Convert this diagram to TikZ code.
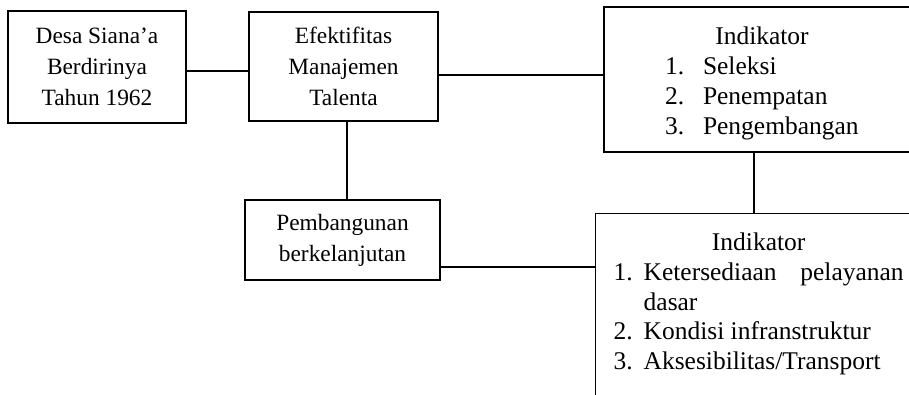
\documentclass[tikz,border=0pt]{standalone}
\usepackage{fontspec}
\setmainfont{Liberation Serif}
\usetikzlibrary{positioning,calc}

\begin{document}
\begin{tikzpicture}[x=0.02cm,y=-0.02cm,line width=.8pt,
box/.style={draw,rectangle,align=center,inner sep=0pt,font=\fontsize{13.3}{17.6}\selectfont},
indbox/.style={draw,rectangle,inner sep=0pt,font=\fontsize{14.5}{17}\selectfont}]
\useasboundingbox (0,0) rectangle (909,395);
\node[box,minimum width=3.56cm,minimum height=2.24cm] (desa) at (97,67) {Desa Siana’a\\Berdirinya\\Tahun 1962};
\node[box,minimum width=3.78cm,minimum height=2.18cm] (efek) at (343.5,66.5) {Efektifitas\\Manajemen\\Talenta};
\node[box,minimum width=3.9cm,minimum height=1.6cm] (bangun) at (342.5,240) {Pembangunan\\berkelanjutan};
\node[indbox,align=left,text width=5.2cm,minimum width=6.32cm,minimum height=2.9cm] (ind1) at (762,79.5) {{\centering\rule{0pt}{14.5pt}Indikator\par}
{\leftskip=.66cm
\noindent\makebox[.76cm][l]{1.}Seleksi\par
\noindent\makebox[.76cm][l]{2.}Penempatan\par
\noindent\makebox[.76cm][l]{3.}Pengembangan\par}};
\node[indbox,anchor=north west,text width=5.8cm,inner xsep=.36cm,inner ysep=.38cm,text depth=3cm,align=justify] (ind2) at (595,213) {{\centering Indikator\par}
\noindent\hangindent=.6cm\makebox[.6cm][l]{1.}Ketersediaan pelayanan dasar\par
\noindent\hangindent=.6cm\makebox[.6cm][l]{2.}Kondisi infranstruktur\par
\noindent\hangindent=.6cm\makebox[.6cm][l]{3.}Aksesibilitas/Transport\par};
% connectors
\coordinate (de) at ($(desa.east)+(0,4)$);
\coordinate (ei) at ($(efek.east)+(0,8.5)$);
\coordinate (eb) at ($(efek.south)+(3.5,0)$);
\coordinate (bi) at ($(bangun.east)+(0,27)$);
\coordinate (ii) at ($(ind1.south)+(-8,0)$);
\draw (de) -- (de -| efek.west);
\draw (ei) -- (ei -| ind1.west);
\draw (eb) -- (eb |- bangun.north);
\draw (bi) -- (bi -| ind2.west);
\draw (ii) -- (ii |- ind2.north);
\end{tikzpicture}
\end{document}
